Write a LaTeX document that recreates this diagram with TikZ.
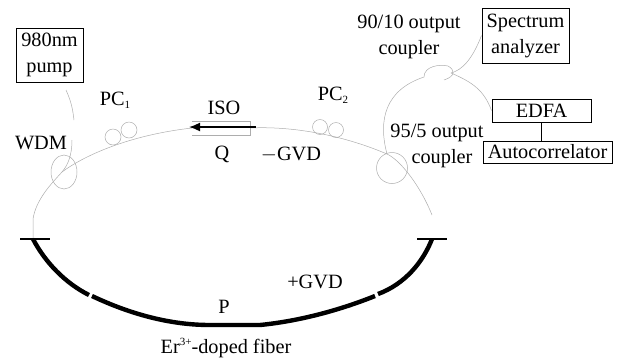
\documentclass[tikz,border=0pt]{standalone}
\usepackage{fontspec}
\setmainfont{Liberation Serif}
\usetikzlibrary{shapes.geometric,arrows.meta}
\definecolor{fibergray}{gray}{0.68}
\newcommand{\smallsub}[1]{\raisebox{-3pt}{\fontsize{11}{11}\selectfont #1}}
\newcommand{\smallsup}[1]{\raisebox{7.5pt}{\fontsize{11}{11}\selectfont #1}}
\tikzset{
	txt/.style={font=\fontsize{20.3}{26}\selectfont,inner sep=0pt,align=center},
	boxed/.style={txt,draw,line width=1pt,inner sep=0pt},
	fiber/.style={draw=fibergray,line width=0.5pt},
	coil/.style={draw=fibergray,line width=0.5pt,circle,inner sep=0pt},
	doped/.style={line width=4.4pt,line join=round},
	endbar/.style={line width=1.2pt}
}
\begin{document}
\begin{tikzpicture}[x=1pt,y=-1pt]
	\useasboundingbox (0,0) rectangle (623,360);

	\node [boxed,minimum width=67pt,minimum height=54pt] (pump) at (49.5,55) {980nm\\pump};
	\node [boxed,minimum width=87pt,minimum height=55pt] (spectrum) at (525.5,35.5) {Spectrum\\analyzer};
	\node [boxed,minimum width=99pt,minimum height=23pt] (edfa) at (541.5,110.5) {EDFA};
	\node [boxed,minimum width=129pt,minimum height=22pt] (auto) at (547.5,152) {Autocorrelator};
	\draw [line width=1pt] (edfa.south) -- (edfa.south |- auto.north);

	\node [txt] (wdmlabel) at (41,143) {WDM};
	\node [txt] (pc1label) at (115,100) {PC\smallsub{1}};
	\node [txt] (isolabel) at (224,108) {ISO};
	\node [txt] (qlabel) at (222,154) {Q};
	\node [txt] (gvdminus) at (291,155) {$-$GVD};
	\node [txt] (pc2label) at (333,95) {PC\smallsub{2}};
	\node [txt] (out90) at (409,37) {90/10 output\\coupler};
	\node [txt] (out95a) at (437,133) {95/5 output};
	\node [txt] (out95b) at (442,159) {coupler};
	\node [txt] (gvdplus) at (315,282) {+GVD};
	\node [txt] (plabel) at (224,307) {P};
	\node [txt] (erlabel) at (226,348) {Er\smallsup{3+}-doped fiber};

	\node [coil,ellipse,minimum width=26pt,minimum height=34pt] (wdm) at (64,172) {};
	\node [coil,minimum size=16pt] (pc1a) at (113,137) {};
	\node [coil,minimum size=16pt] (pc1b) at (129,130) {};
	\node [coil,minimum size=15pt] (pc2a) at (320,127) {};
	\node [coil,minimum size=15pt] (pc2b) at (336,130) {};
	\node [coil,minimum size=31pt] (c95) at (392,168) {};

	\coordinate (leftend) at (33,239);
	\coordinate (rightend) at (432,239);
	\coordinate (isoin) at (250,128);
	\coordinate (isoout) at (192,128);
	\coordinate (pumpend) at (66,90);
	\coordinate (wdmjoin) at (62,172);
	\coordinate (c95join) at (387,154);
	\coordinate (c90join) at (451,73);
	\coordinate (rightfree) at (432,215);
	\coordinate (arrowstart) at (256,127);
	\coordinate (arrowend) at (189,127);

	\draw [fiber] (pumpend) .. controls (72,103) and (73,112) .. (74,120);
	\draw [fiber] (72,140) .. controls (72,155) and (68,165) .. (wdmjoin);
	\draw [fiber] (leftend) -- (33,219) .. controls (36,200) and (50,185) .. (wdmjoin)
		.. controls (85,155) and (130,135) .. (isoout);
	\draw [fiber] (isoin) .. controls (290,126) and (340,134) .. (c95join)
		.. controls (400,160) and (420,185) .. (rightfree);
	\draw [fiber] (c95join) .. controls (378,120) and (385,90) .. (424,77)
		.. controls (424,66) and (440,64) .. (448,66) .. controls (455,70) and (456,76) .. (444,80);
	\draw [fiber] (c90join) .. controls (462,70) and (472,60) .. (spectrum.west);
	\draw [fiber] (c90join) .. controls (472,82) and (484,90) .. (edfa.west);

	\draw [fiber] (192,121) -- (250,121) -- (250,135) -- (192,135);
	\draw [-{Latex[length=11pt,width=9pt]},line width=1.6pt] (arrowstart) -- (arrowend);

	\draw [doped] (leftend) .. controls (45,262) and (65,283) .. (89,295);
	\draw [doped] (92,296) .. controls (130,314) and (170,325) .. (210,325) -- (260,325)
		.. controls (300,321) and (340,310) .. (375,296);
	\draw [doped] (378,294) .. controls (405,284) and (423,262) .. (rightend);
	\draw [endbar] (20,239) -- (50,239);
	\draw [endbar] (417,239) -- (447,239);
\end{tikzpicture}
\end{document}
